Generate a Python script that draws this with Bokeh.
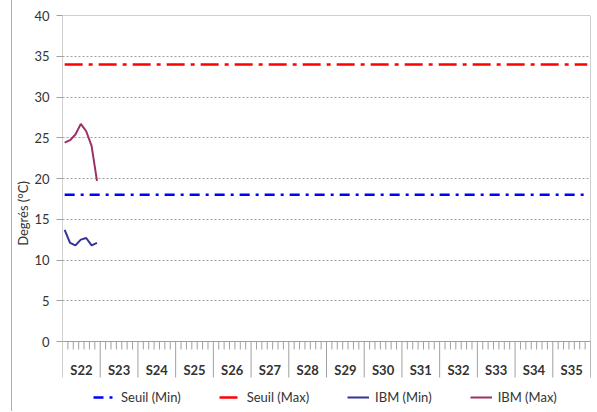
from bokeh.plotting import figure
from bokeh.models import Range1d, FixedTicker, Legend, LegendItem, ColumnDataSource, Span
from bokeh.core.properties import value
from bokeh.embed import file_html
from bokeh.resources import INLINE

# ---- data ----
weeks = ["S22", "S23", "S24", "S25", "S26", "S27", "S28", "S29", "S30",
         "S31", "S32", "S33", "S34", "S35"]
y_ticks = [0, 5, 10, 15, 20, 25, 30, 35, 40]
ibm_min = [13.7, 12.1, 11.8, 12.5, 12.7, 11.8, 12.1]   # S22 days
ibm_max = [24.4, 24.7, 25.4, 26.7, 25.8, 24.0, 19.7]   # S22 days
seuil_min_value = 18
seuil_max_value = 34

DAYS = 7
n_weeks = len(weeks)
n_days = n_weeks * DAYS
day_x = [(i + 0.4) / DAYS for i in range(n_days)]
seuil_min = [seuil_min_value] * n_days
seuil_max = [seuil_max_value] * n_days

# ---- geometry ----
FONT = "Lato"
GRAY = "#a0a0a0"
TXT = "#333333"
frame_w, frame_h = 528, 396
px_per_unit = 326 / 40.0
y_low = -(412 - 342) / px_per_unit
axis_drop = -36 / px_per_unit
minor_drop = -8 / px_per_unit
label_y = -28 / px_per_unit

p = figure(frame_width=frame_w, frame_height=frame_h,
           x_range=Range1d(0, n_weeks), y_range=Range1d(y_low, 40),
           output_backend="svg", toolbar_location=None,
           min_border_left=50, min_border_right=4, min_border_top=15,
           min_border_bottom=0)
p.styles = {"margin-left": "11px", "border-left": "1px solid #b0b0b0"}
p.outline_line_color = None
p.xaxis.visible = False
p.xgrid.visible = False

yaxis = p.yaxis[0]
yaxis.ticker = FixedTicker(ticks=y_ticks, minor_ticks=[])
yaxis.axis_line_color = None
yaxis.major_tick_out = 6
yaxis.major_tick_in = 0
yaxis.major_tick_line_color = GRAY
yaxis.major_label_standoff = 7
yaxis.major_label_text_font = FONT
yaxis.major_label_text_font_size = "13px"
yaxis.major_label_text_color = TXT
yaxis.axis_label = "Degrés (°C)"
yaxis.axis_label_text_font = FONT
yaxis.axis_label_text_font_size = "13px"
yaxis.axis_label_text_font_style = "normal"
yaxis.axis_label_text_color = TXT
yaxis.axis_label_standoff = 0

p.ygrid.ticker = FixedTicker(ticks=[t for t in y_ticks if 0 < t < 40])
p.ygrid.grid_line_color = GRAY
p.ygrid.grid_line_dash = "2 2"
p.ygrid.grid_line_width = 1

# frame lines: top border, x axis line
p.add_layout(Span(location=40, dimension="width", line_color=GRAY, line_width=1))
p.add_layout(Span(location=0, dimension="width", line_color=GRAY, line_width=1))
# y axis line and right border
p.segment(x0=[0, n_weeks], y0=[0, axis_drop], x1=[0, n_weeks], y1=[40, 40],
          line_color=GRAY, line_width=1)
# week separators
sep_x = list(range(n_weeks + 1))
p.segment(x0=sep_x, y0=[0] * len(sep_x), x1=sep_x, y1=[axis_drop] * len(sep_x),
          line_color=GRAY, line_width=1)
# day ticks
mx = [w + d / DAYS for w in range(n_weeks) for d in range(1, DAYS)]
p.segment(x0=mx, y0=[0] * len(mx), x1=mx, y1=[minor_drop] * len(mx),
          line_color=GRAY, line_width=1)
# week labels
p.text(x=[i + 0.5 for i in range(n_weeks)], y=[label_y] * n_weeks, text=weeks,
       text_font=value(FONT), text_font_size="13px", text_font_style="bold",
       text_color=TXT, text_align="center", text_baseline="middle")

# series
r_smin = p.line(day_x, seuil_min, line_color="#0000ff", line_width=2.5, line_dash="10 6 3 6")
r_smax = p.line(day_x, seuil_max, line_color="#ff0000", line_width=2.5, line_dash="18 6 4 6")
r_imin = p.line(day_x[:len(ibm_min)], ibm_min, line_color="#333399", line_width=2)
r_imax = p.line(day_x[:len(ibm_max)], ibm_max, line_color="#993366", line_width=2)

legend = Legend(items=[
    LegendItem(label="Seuil (Min)", renderers=[r_smin]),
    LegendItem(label="Seuil (Max)", renderers=[r_smax]),
    LegendItem(label="IBM (Min)", renderers=[r_imin]),
    LegendItem(label="IBM (Max)", renderers=[r_imax]),
], orientation="horizontal", location=(31, 4), spacing=38,
    glyph_width=22, glyph_height=20, label_height=20, label_standoff=6,
    padding=0, margin=0, border_line_color=None, background_fill_alpha=0,
    label_text_font=FONT, label_text_font_size="13px", label_text_color=TXT)
p.add_layout(legend, "center")

open("out.html", "w").write(file_html(p, INLINE))
